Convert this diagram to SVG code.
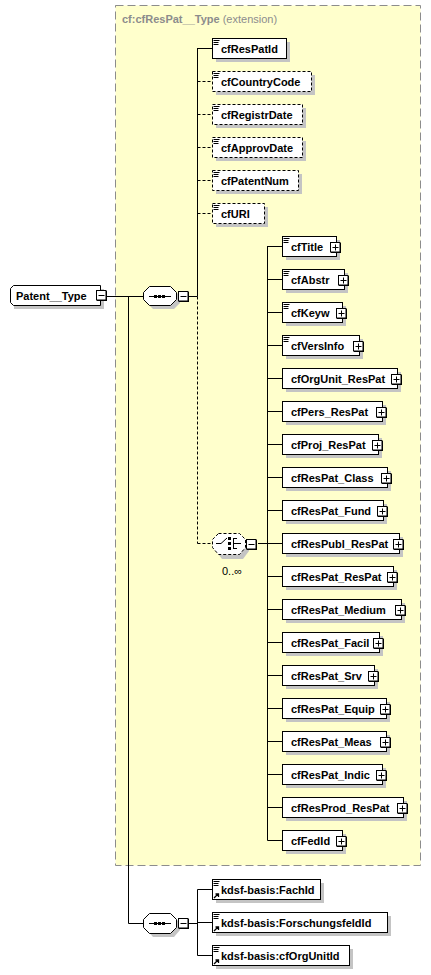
<svg xmlns="http://www.w3.org/2000/svg" width="431" height="975" viewBox="0 0 431 975">
<style>
.t{font-family:"Liberation Sans",Arial,sans-serif;font-size:11px;font-weight:bold;fill:#000}
.ln{stroke:#000;stroke-width:1;fill:none}
.dl{stroke:#000;stroke-width:1;fill:none;stroke-dasharray:3 2}
.bx{fill:#fff;stroke:#000;stroke-width:1}
.bxd{fill:#fff;stroke:#000;stroke-width:1;stroke-dasharray:3 2}
.sh{fill:#c4c4c4}
.ic{stroke:#000;stroke-width:1}
</style>
<defs>
<g id="doc"><path class="ic" d="M0.5 1.5h6M0.5 3.5h5M0.5 5.5h5"/></g>
<g id="ref"><path d="M1 6l4-4M2.5 2h3v3" stroke="#000" stroke-width="1.3" fill="none"/></g>
<g id="plus"><rect x="1" y="1" width="10" height="10" fill="#000"/><rect x="0.5" y="0.5" width="9.5" height="9.5" fill="#fff" stroke="#000"/><path d="M2.5 5.5h6M5.5 2.5v6" stroke="#000"/></g>
<g id="minus"><rect x="1" y="1" width="10" height="10" fill="#000"/><rect x="0.5" y="0.5" width="9.5" height="9.5" fill="#fff" stroke="#000"/><path d="M2.5 5.5h6" stroke="#000"/></g>
</defs>

<g id="extension-box">
<rect x="115.5" y="5.5" width="305" height="860" fill="#ffffcc" stroke="#8c8c8c" stroke-dasharray="8 4"/>
<text x="122" y="23" font-family="'Liberation Sans',Arial,sans-serif" font-size="11" fill="#8c8c8c"><tspan font-weight="bold">cf:cfResPat__Type</tspan> (extension)</text>
</g>

<g id="connectors">
<path class="ln" d="M106 296.5H143"/>
<path class="ln" d="M128.5 296.5V923.5H143"/>
<path class="ln" d="M188 296.5H197.5"/>
<path class="ln" d="M197.5 48V296.5"/>
<path class="dl" d="M197.5 296.5V543.5"/>
<path class="ln" d="M197.5 48.5H212"/>
<path class="dl" d="M197.5 81.5H212M197.5 114.5H212M197.5 147.5H212M197.5 180.5H212M197.5 213.5H212M197.5 543.5H212"/>
<path class="ln" d="M258 543.5H267.5"/>
<path class="ln" d="M267.5 246V840.5"/>
<path class="ln" d="M267.5 246.5H282M267.5 279.5H282M267.5 312.5H282M267.5 345.5H282M267.5 378.5H282M267.5 411.5H282M267.5 444.5H282M267.5 477.5H282M267.5 510.5H282M267.5 543.5H282M267.5 576.5H282M267.5 609.5H282M267.5 642.5H282M267.5 675.5H282M267.5 708.5H282M267.5 741.5H282M267.5 774.5H282M267.5 807.5H282M267.5 840.5H282"/>
<path class="ln" d="M188 923.5H197.5"/>
<path class="ln" d="M197.5 889.5V955.5"/>
<path class="ln" d="M197.5 889.5H212M197.5 922.5H212M197.5 955.5H212"/>
</g>

<g id="Patent__Type">
<path class="sh" d="M17 289H104V309H14V292Z"/>
<path class="bx" d="M13.5 285.5H100.5V305.5H13.5L10.5 302.5V288.5Z"/>
<text class="t" x="16" y="300">Patent__Type</text>
<use href="#minus" x="96" y="290"/>
</g>

<g id="sequence-main">
<path class="sh" d="M153 290H174L180 296V303L174 309H153L147 303V296Z"/>
<path class="bx" d="M149.5 286.5H170.5L176.5 292.5V299.5L170.5 305.5H149.5L143.5 299.5V292.5Z"/>
<path class="ln" d="M149 296.5H171"/>
<rect x="154" y="295" width="3" height="3"/><rect x="158" y="295" width="3" height="3"/><rect x="162" y="295" width="3" height="3"/>
<use href="#minus" x="178" y="291"/>
</g>

<g id="cfResPatId">
<rect class="sh" x="216" y="42" width="74" height="20"/>
<rect class="bx" x="212.5" y="38.5" width="74" height="20"/>
<use href="#doc" x="213" y="39"/>
<text class="t" x="221" y="53">cfResPatId</text>
</g>
<g id="cfCountryCode">
<rect class="sh" x="216" y="75" width="99" height="20"/>
<rect class="bxd" x="212.5" y="71.5" width="99" height="20"/>
<use href="#doc" x="213" y="72"/>
<text class="t" x="221" y="86">cfCountryCode</text>
</g>
<g id="cfRegistrDate">
<rect class="sh" x="216" y="108" width="90" height="20"/>
<rect class="bxd" x="212.5" y="104.5" width="90" height="20"/>
<use href="#doc" x="213" y="105"/>
<text class="t" x="221" y="119">cfRegistrDate</text>
</g>
<g id="cfApprovDate">
<rect class="sh" x="216" y="141" width="90" height="20"/>
<rect class="bxd" x="212.5" y="137.5" width="90" height="20"/>
<use href="#doc" x="213" y="138"/>
<text class="t" x="221" y="152">cfApprovDate</text>
</g>
<g id="cfPatentNum">
<rect class="sh" x="216" y="174" width="86" height="20"/>
<rect class="bxd" x="212.5" y="170.5" width="86" height="20"/>
<use href="#doc" x="213" y="171"/>
<text class="t" x="221" y="185">cfPatentNum</text>
</g>
<g id="cfURI">
<rect class="sh" x="216" y="207" width="52" height="20"/>
<rect class="bxd" x="212.5" y="203.5" width="52" height="20"/>
<use href="#doc" x="213" y="204"/>
<text class="t" x="221" y="218">cfURI</text>
</g>

<g id="choice">
<path class="sh" d="M222 538H243L249 544V551L243 559H222L216 551V544Z"/>
<path class="bxd" d="M218.5 533.5H239.5L245.5 539.5V547.5L239.5 554.5H218.5L212.5 547.5V539.5Z"/>
<path class="ln" d="M216 543.5H221L227 538"/>
<rect x="228" y="537" width="3" height="3"/><rect x="228" y="542" width="3" height="3"/><rect x="228" y="547" width="3" height="3"/>
<path class="ln" d="M233.5 538V549M233.5 538.5H237M233.5 543.5H241M233.5 548.5H237"/>
<use href="#minus" x="246" y="539"/>
<text x="222" y="575" font-family="'Liberation Sans',Arial,sans-serif" font-size="11" fill="#000">0..∞</text>
</g>

<g id="cfTitle">
<rect class="sh" x="286" y="240" width="54" height="20"/>
<rect class="bx" x="282.5" y="236.5" width="54" height="20"/>
<use href="#doc" x="283" y="237"/>
<text class="t" x="291" y="251">cfTitle</text>
<use href="#plus" x="330" y="242"/>
</g>
<g id="cfAbstr">
<rect class="sh" x="286" y="273" width="62" height="20"/>
<rect class="bx" x="282.5" y="269.5" width="62" height="20"/>
<use href="#doc" x="283" y="270"/>
<text class="t" x="291" y="284">cfAbstr</text>
<use href="#plus" x="338" y="275"/>
</g>
<g id="cfKeyw">
<rect class="sh" x="286" y="306" width="60" height="20"/>
<rect class="bx" x="282.5" y="302.5" width="60" height="20"/>
<use href="#doc" x="283" y="303"/>
<text class="t" x="291" y="317">cfKeyw</text>
<use href="#plus" x="336" y="308"/>
</g>
<g id="cfVersInfo">
<rect class="sh" x="286" y="339" width="77" height="20"/>
<rect class="bx" x="282.5" y="335.5" width="77" height="20"/>
<use href="#doc" x="283" y="336"/>
<text class="t" x="291" y="350">cfVersInfo</text>
<use href="#plus" x="353" y="341"/>
</g>
<g id="cfOrgUnit_ResPat">
<rect class="sh" x="286" y="372" width="115" height="20"/>
<rect class="bx" x="282.5" y="368.5" width="115" height="20"/>
<text class="t" x="291" y="383">cfOrgUnit_ResPat</text>
<use href="#plus" x="391" y="374"/>
</g>
<g id="cfPers_ResPat">
<rect class="sh" x="286" y="405" width="100" height="20"/>
<rect class="bx" x="282.5" y="401.5" width="100" height="20"/>
<text class="t" x="291" y="416">cfPers_ResPat</text>
<use href="#plus" x="376" y="407"/>
</g>
<g id="cfProj_ResPat">
<rect class="sh" x="286" y="438" width="96" height="20"/>
<rect class="bx" x="282.5" y="434.5" width="96" height="20"/>
<text class="t" x="291" y="449">cfProj_ResPat</text>
<use href="#plus" x="372" y="440"/>
</g>
<g id="cfResPat_Class">
<rect class="sh" x="286" y="471" width="105" height="20"/>
<rect class="bx" x="282.5" y="467.5" width="105" height="20"/>
<text class="t" x="291" y="482">cfResPat_Class</text>
<use href="#plus" x="381" y="473"/>
</g>
<g id="cfResPat_Fund">
<rect class="sh" x="286" y="504" width="101" height="20"/>
<rect class="bx" x="282.5" y="500.5" width="101" height="20"/>
<text class="t" x="291" y="515">cfResPat_Fund</text>
<use href="#plus" x="377" y="506"/>
</g>
<g id="cfResPubl_ResPat">
<rect class="sh" x="286" y="537" width="117" height="20"/>
<rect class="bx" x="282.5" y="533.5" width="117" height="20"/>
<text class="t" x="291" y="548">cfResPubl_ResPat</text>
<use href="#plus" x="393" y="539"/>
</g>
<g id="cfResPat_ResPat">
<rect class="sh" x="286" y="570" width="111" height="20"/>
<rect class="bx" x="282.5" y="566.5" width="111" height="20"/>
<text class="t" x="291" y="581">cfResPat_ResPat</text>
<use href="#plus" x="387" y="572"/>
</g>
<g id="cfResPat_Medium">
<rect class="sh" x="286" y="603" width="119" height="20"/>
<rect class="bx" x="282.5" y="599.5" width="119" height="20"/>
<text class="t" x="291" y="614">cfResPat_Medium</text>
<use href="#plus" x="395" y="605"/>
</g>
<g id="cfResPat_Facil">
<rect class="sh" x="286" y="636" width="97" height="20"/>
<rect class="bx" x="282.5" y="632.5" width="97" height="20"/>
<text class="t" x="291" y="647">cfResPat_Facil</text>
<use href="#plus" x="373" y="638"/>
</g>
<g id="cfResPat_Srv">
<rect class="sh" x="286" y="669" width="92" height="20"/>
<rect class="bx" x="282.5" y="665.5" width="92" height="20"/>
<text class="t" x="291" y="680">cfResPat_Srv</text>
<use href="#plus" x="368" y="671"/>
</g>
<g id="cfResPat_Equip">
<rect class="sh" x="286" y="702" width="104" height="20"/>
<rect class="bx" x="282.5" y="698.5" width="104" height="20"/>
<text class="t" x="291" y="713">cfResPat_Equip</text>
<use href="#plus" x="380" y="704"/>
</g>
<g id="cfResPat_Meas">
<rect class="sh" x="286" y="735" width="104" height="20"/>
<rect class="bx" x="282.5" y="731.5" width="104" height="20"/>
<text class="t" x="291" y="746">cfResPat_Meas</text>
<use href="#plus" x="380" y="737"/>
</g>
<g id="cfResPat_Indic">
<rect class="sh" x="286" y="768" width="100" height="20"/>
<rect class="bx" x="282.5" y="764.5" width="100" height="20"/>
<text class="t" x="291" y="779">cfResPat_Indic</text>
<use href="#plus" x="376" y="770"/>
</g>
<g id="cfResProd_ResPat">
<rect class="sh" x="286" y="801" width="121" height="20"/>
<rect class="bx" x="282.5" y="797.5" width="121" height="20"/>
<text class="t" x="291" y="812">cfResProd_ResPat</text>
<use href="#plus" x="397" y="803"/>
</g>
<g id="cfFedId">
<rect class="sh" x="286" y="834" width="60" height="20"/>
<rect class="bx" x="282.5" y="830.5" width="60" height="20"/>
<text class="t" x="291" y="845">cfFedId</text>
<use href="#plus" x="336" y="836"/>
</g>

<g id="sequence-kdsf">
<path class="sh" d="M153 917H174L180 923V930L174 937H153L147 930V923Z"/>
<path class="bx" d="M149.5 913.5H170.5L176.5 919.5V927.5L170.5 933.5H149.5L143.5 927.5V919.5Z"/>
<path class="ln" d="M149 923.5H171"/>
<rect x="154" y="922" width="3" height="3"/><rect x="158" y="922" width="3" height="3"/><rect x="162" y="922" width="3" height="3"/>
<use href="#minus" x="178" y="918"/>
</g>

<g id="kdsf-basis-FachId">
<rect class="sh" x="216" y="883" width="108" height="20"/>
<rect class="bx" x="212.5" y="879.5" width="108" height="20"/>
<use href="#doc" x="213" y="880"/>
<use href="#ref" x="213" y="892"/>
<text class="t" x="221" y="894">kdsf-basis:FachId</text>
</g>
<g id="kdsf-basis-ForschungsfeldId">
<rect class="sh" x="216" y="916" width="175" height="20"/>
<rect class="bx" x="212.5" y="912.5" width="175" height="20"/>
<use href="#doc" x="213" y="913"/>
<use href="#ref" x="213" y="925"/>
<text class="t" x="221" y="927">kdsf-basis:ForschungsfeldId</text>
</g>
<g id="kdsf-basis-cfOrgUnitId">
<rect class="sh" x="216" y="949" width="137" height="20"/>
<rect class="bx" x="212.5" y="945.5" width="137" height="20"/>
<use href="#doc" x="213" y="946"/>
<use href="#ref" x="213" y="958"/>
<text class="t" x="221" y="960">kdsf-basis:cfOrgUnitId</text>
</g>
</svg>
